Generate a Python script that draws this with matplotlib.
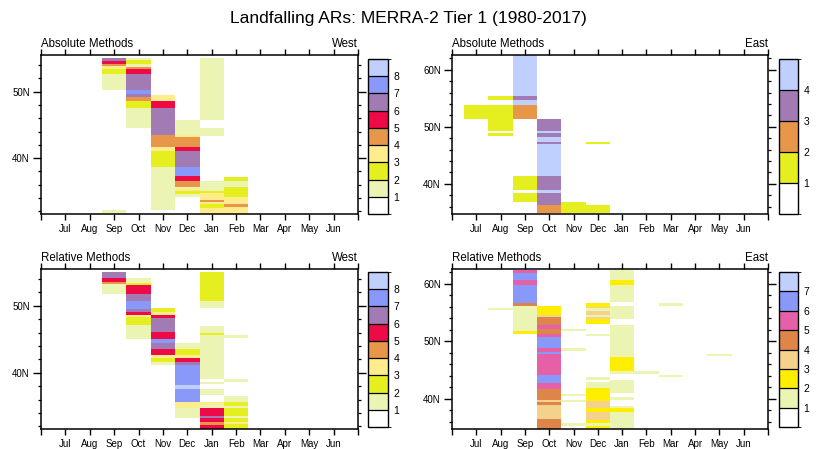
import numpy as np
import matplotlib
matplotlib.use("Agg")
import matplotlib.pyplot as plt
from matplotlib.colors import ListedColormap, BoundaryNorm
from matplotlib.cm import ScalarMappable
from matplotlib.ticker import MultipleLocator, FuncFormatter

plt.rcParams['font.family'] = ['Liberation Sans', 'DejaVu Sans']

months = ["Jul", "Aug", "Sep", "Oct", "Nov", "Dec", "Jan", "Feb", "Mar", "Apr", "May", "Jun"]

# colour tables (one colour per count bin, white = none)
west_colors = ["#ffffff", "#ebf4b3", "#e5ee1e", "#ffec8c", "#e8964a",
               "#ee0a46", "#a27bb4", "#8899fa", "#bfd0ff"]
east_abs_colors = ["#ffffff", "#e5ee1e", "#e8964a", "#a27bb4", "#bfd0ff"]
east_rel_colors = ["#ffffff", "#ebf4b3", "#ffee00", "#f5d28c", "#de854a",
                   "#e660a8", "#8899fa", "#bfd0ff"]

# counts per month as (lat_south, lat_north, count)
west_abs = {
    "Sep": [(54.6, 55.1, 6), (54.2, 54.6, 5), (53.85, 54.2, 4), (53.35, 53.85, 3),
            (52.7, 53.35, 2), (50.2, 52.7, 1), (31.75, 32.2, 1)],
    "Oct": [(54.7, 55.1, 1), (54.2, 54.7, 2), (53.7, 54.2, 1), (53.35, 53.7, 4),
            (52.6, 53.35, 5), (50.2, 52.6, 6), (49.6, 50.2, 7), (49.2, 49.6, 6),
            (48.6, 49.2, 4), (47.6, 48.6, 2), (44.55, 47.6, 1)],
    "Nov": [(48.6, 49.5, 3), (47.6, 48.6, 5), (43.55, 47.6, 6), (41.6, 43.55, 4),
            (41.1, 41.6, 3), (38.6, 41.1, 2), (32.2, 38.6, 1)],
    "Dec": [(43.45, 45.7, 1), (43.15, 43.45, 3), (41.7, 43.15, 4), (41.1, 41.7, 5),
            (38.6, 41.1, 6), (37.25, 38.6, 7), (36.6, 37.25, 5), (35.7, 36.6, 4),
            (35.45, 35.7, 1), (35.05, 35.45, 3), (34.6, 35.05, 2), (34.1, 34.6, 1)],
    "Jan": [(45.75, 55.1, 1), (43.25, 44.5, 1), (35.1, 36.6, 1), (34.75, 35.1, 2),
            (33.7, 34.75, 3), (33.45, 33.7, 4), (33.05, 33.45, 3), (32.5, 33.05, 2),
            (31.6, 32.5, 3)],
    "Feb": [(36.55, 37.2, 2), (35.65, 36.55, 1), (34.1, 35.65, 2), (33.1, 34.1, 3),
            (32.6, 33.1, 4), (31.6, 32.6, 3)],
}

east_abs = {
    "Jul": [(51.4, 53.75, 1)],
    "Aug": [(54.75, 55.35, 1), (49.35, 53.75, 1), (48.3, 48.9, 1)],
    "Sep": [(55.35, 62.6, 4), (54.75, 55.35, 3), (53.75, 54.75, 4), (51.4, 53.75, 2),
            (38.85, 41.3, 1), (36.8, 38.4, 1)],
    "Oct": [(49.35, 51.4, 3), (48.9, 49.35, 4), (48.2, 48.9, 3), (47.3, 48.2, 4),
            (46.9, 47.3, 3), (41.3, 46.9, 4), (38.85, 41.3, 3), (38.4, 38.85, 4),
            (36.35, 38.4, 3), (34.8, 36.35, 2)],
    "Nov": [(34.8, 36.8, 1)],
    "Dec": [(46.9, 47.3, 1), (34.8, 36.35, 1)],
}

west_rel = {
    "Sep": [(54.2, 55.1, 6), (53.6, 54.2, 5), (53.2, 53.6, 4), (51.7, 53.2, 1)],
    "Oct": [(53.35, 54.2, 1), (53.1, 53.35, 2), (51.7, 53.1, 5), (50.75, 51.7, 6),
            (49.5, 50.75, 7), (49.1, 49.5, 6), (48.6, 49.1, 5), (48.3, 48.6, 3),
            (47.1, 48.3, 2), (45.1, 47.1, 1)],
    "Nov": [(49.1, 49.6, 2), (48.6, 49.1, 3), (48.2, 48.6, 5), (46.1, 48.2, 6),
            (45.1, 46.1, 5), (44.5, 45.1, 7), (43.5, 44.5, 6), (42.6, 43.5, 5),
            (42.2, 42.6, 3), (41.6, 42.2, 2), (41.1, 41.6, 1)],
    "Dec": [(43.5, 44.5, 1), (42.6, 43.5, 2), (42.2, 42.6, 3), (41.6, 42.2, 5),
            (41.1, 41.6, 6), (38.1, 41.1, 7), (37.6, 38.1, 8), (35.7, 37.6, 7),
            (34.7, 35.7, 3), (33.2, 34.7, 1)],
    "Jan": [(50.7, 55.1, 2), (49.6, 50.7, 1), (46.0, 47.0, 1), (45.6, 46.0, 2),
            (39.1, 45.6, 1), (38.25, 38.6, 1), (36.7, 37.6, 1), (35.2, 35.7, 3),
            (34.7, 35.2, 1), (33.6, 34.7, 5), (33.2, 33.6, 6), (32.6, 33.2, 5),
            (32.2, 32.6, 4), (31.6, 32.2, 5)],
    "Feb": [(45.2, 45.7, 1), (38.6, 39.1, 1), (35.7, 36.6, 1), (35.0, 35.7, 2),
            (34.7, 35.0, 1), (33.6, 34.7, 2), (33.2, 33.6, 1), (32.6, 33.2, 2),
            (32.3, 32.6, 3), (31.6, 32.3, 2)],
}

east_rel = {
    "Aug": [(55.4, 55.8, 1)],
    "Sep": [(61.85, 62.5, 5), (60.7, 61.85, 6), (59.8, 60.7, 5), (56.6, 59.8, 6),
            (56.2, 56.6, 4), (51.75, 56.2, 1), (51.3, 51.75, 2)],
    "Oct": [(54.6, 56.2, 2), (54.3, 54.6, 3), (52.85, 54.3, 4), (52.15, 52.85, 5),
            (51.3, 52.15, 4), (50.8, 51.3, 5), (48.8, 50.8, 6), (48.2, 48.8, 5),
            (47.7, 48.2, 6), (44.1, 47.7, 5), (42.7, 44.1, 6), (41.7, 42.7, 5),
            (39.75, 41.7, 4), (39.45, 39.75, 3), (38.9, 39.45, 4), (36.45, 38.9, 3),
            (34.7, 36.45, 4)],
    "Nov": [(51.75, 52.15, 1), (48.25, 48.8, 1), (40.4, 40.8, 1), (39.35, 39.75, 1),
            (35.3, 35.7, 1)],
    "Dec": [(56.0, 56.6, 2), (55.75, 56.0, 3), (55.35, 55.75, 1), (54.6, 55.35, 3),
            (54.3, 54.6, 1), (53.9, 54.3, 3), (53.0, 53.9, 2), (51.0, 51.3, 1),
            (43.3, 43.7, 1), (41.8, 42.85, 1), (39.65, 41.8, 2), (38.3, 39.65, 3),
            (37.7, 38.3, 2), (36.25, 37.7, 3), (35.7, 36.25, 2), (35.3, 35.7, 1),
            (34.7, 35.3, 2)],
    "Jan": [(60.7, 62.5, 1), (59.8, 60.7, 2), (56.8, 59.8, 1), (53.9, 56.2, 1),
            (47.2, 52.85, 1), (44.9, 47.2, 2), (44.3, 44.9, 1), (40.9, 43.25, 1),
            (39.75, 40.35, 1), (38.3, 38.75, 1), (37.7, 38.3, 2), (34.7, 37.7, 1)],
    "Feb": [(44.3, 44.9, 1)],
    "Mar": [(56.2, 56.6, 1), (43.7, 44.1, 1)],
    "May": [(47.4, 47.8, 1)],
}

west_lat = (31.6, 55.5)
east_lat = (34.7, 62.6)

W, H = 817, 449


def frac(x0, y0, x1, y1):
    return [x0 / W, 1 - y1 / H, (x1 - x0) / W, (y1 - y0) / H]


def draw_panel(fig, rect, data, colors, ylim, left, right):
    ax = fig.add_axes(rect)
    cmap = ListedColormap(colors)
    norm = BoundaryNorm(np.arange(len(colors) + 1), len(colors))
    for m, segs in data.items():
        xi = months.index(m) + 1
        for lo, hi, v in segs:
            ax.bar(xi, hi - lo, bottom=lo, width=1.0, color=cmap(norm(v)),
                   linewidth=0, align='center')
    ax.set_xlim(0, 13)
    ax.set_ylim(*ylim)
    ax.set_xticks(np.arange(0, 14))
    ax.set_xticklabels([""] + months + [""])
    ax.yaxis.set_major_locator(MultipleLocator(10))
    ax.yaxis.set_minor_locator(MultipleLocator(2))
    ax.yaxis.set_major_formatter(FuncFormatter(lambda v, p: "%dN" % v))
    ax.tick_params(axis='both', which='major', direction='out', length=4.5,
                   width=1.0, labelsize=7, pad=2.5, top=True, right=True)
    ax.tick_params(axis='y', which='major', length=5.5)
    ax.tick_params(axis='y', which='minor', direction='out', length=2.5,
                   width=0.9, right=True)
    for s in ax.spines.values():
        s.set_linewidth(1.1)
    ax.text(0, 1.05, left, transform=ax.transAxes, ha='left', va='baseline',
            fontsize=8.3)
    ax.text(1, 1.05, right, transform=ax.transAxes, ha='right', va='baseline',
            fontsize=8.3)
    return cmap, norm


def draw_bar(fig, rect, cmap, norm, n):
    cax = fig.add_axes(rect)
    cb = fig.colorbar(ScalarMappable(norm=norm, cmap=cmap), cax=cax,
                      ticks=np.arange(1, n), drawedges=True)
    cb.outline.set_linewidth(1.0)
    cb.dividers.set_linewidth(0.9)
    cax.tick_params(length=0, labelsize=7.5, pad=4)


fig = plt.figure(figsize=(W / 100, H / 100), dpi=100)

cm, nm = draw_panel(fig, frac(41, 55, 358, 214), west_abs, west_colors, west_lat,
                    "Absolute Methods", "West")
draw_bar(fig, frac(368, 59, 388, 214), cm, nm, len(west_colors))

cm, nm = draw_panel(fig, frac(452, 55, 768, 214), east_abs, east_abs_colors, east_lat,
                    "Absolute Methods", "East")
draw_bar(fig, frac(779, 59, 798, 214), cm, nm, len(east_abs_colors))

cm, nm = draw_panel(fig, frac(41, 269, 358, 429), west_rel, west_colors, west_lat,
                    "Relative Methods", "West")
draw_bar(fig, frac(368, 272, 388, 427), cm, nm, len(west_colors))

cm, nm = draw_panel(fig, frac(452, 269, 768, 429), east_rel, east_rel_colors, east_lat,
                    "Relative Methods", "East")
draw_bar(fig, frac(779, 272, 798, 427), cm, nm, len(east_rel_colors))

fig.text(0.5, 1 - 18 / H, "Landfalling ARs: MERRA-2 Tier 1 (1980-2017)",
         ha='center', va='center', fontsize=12.5)

fig.savefig("out.png", dpi=100)
